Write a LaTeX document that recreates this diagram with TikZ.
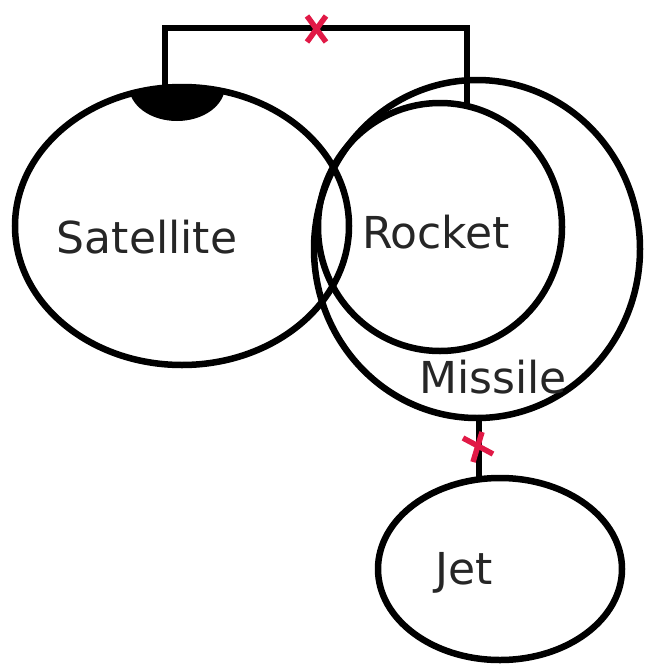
\documentclass[tikz,border=0pt]{standalone}
\usepackage{fontspec}
\setmainfont{DejaVu Sans}
\usetikzlibrary{shapes.geometric}
\begin{document}
\begin{tikzpicture}[x=1pt,y=-1pt,
  setnode/.style={draw=black,line width=6.5pt,ellipse,inner sep=0pt,outer sep=0pt},
  lbl/.style={font=\fontsize{44}{50}\selectfont,text=black!85,inner sep=0pt},
  conn/.style={draw=black,line width=6.5pt},
  cross/.style={draw={rgb,255:red,225;green,25;blue,70},line width=5.5pt}]
\useasboundingbox (0,0) rectangle (658,664);
% sets
\node[setnode,minimum width=334pt,minimum height=278pt] (sat) at (182,226) {};
\node[setnode,minimum width=326pt,minimum height=338pt] (mis) at (477,249) {};
\node[setnode,minimum width=244pt,minimum height=248pt] (roc) at (440,227) {};
\node[setnode,minimum width=244pt,minimum height=182pt] (jet) at (500,569) {};
% filled cap on satellite
\begin{scope}
  \clip (182,226) ellipse (167 and 139);
  \fill[black] (177,86) ellipse (48 and 35);
\end{scope}
% labels
\node[lbl] (tsat) at (147,237) {Satellite};
\node[lbl] (troc) at (436,232) {Rocket};
\node[lbl] (tmis) at (493,377) {Missile};
\node[lbl] (tjet) at (464,573) {Jet};
% connectors
\coordinate (a1) at (165,90);
\coordinate (a2) at (467,104);
\draw[conn] (a1) -- (165,28) -- (467,28) -- (a2);
\coordinate (b1) at (479,416);
\coordinate (b2) at (479,480);
\draw[conn] (b1) -- (b2);
% red crosses
\coordinate (x1) at (316,29);
\draw[cross] ([shift={(-9,-13)}]x1) -- ([shift={(10,13)}]x1);
\draw[cross] ([shift={(10,-13)}]x1) -- ([shift={(-9,13)}]x1);
\coordinate (x2) at (478,447);
\draw[cross] ([shift={(-15,-9)}]x2) -- ([shift={(15,7)}]x2);
\draw[cross] ([shift={(4,-15)}]x2) -- ([shift={(-5,15)}]x2);
\end{tikzpicture}
\end{document}
